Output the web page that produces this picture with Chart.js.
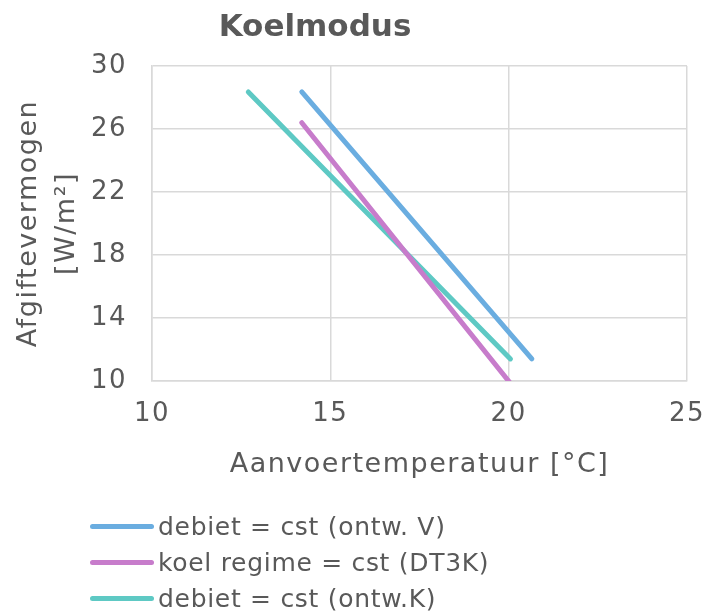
<!DOCTYPE html>
<html>
<head>
<meta charset="utf-8">
<script src="https://cdn.jsdelivr.net/npm/chart.js@4"></script>
<style>
  html, body { margin:0; padding:0; background:#fff; }
  #wrap { position:relative; width:705px; height:612px; font-family:"DejaVu Sans", sans-serif; color:#595959; }
  #chart { position:absolute; left:0; top:0; }
  .title { position:absolute; left:0; width:630px; top:7px; text-align:center; font-weight:700; font-size:31px; }
  .legend { position:absolute; left:90px; top:508px; }
  .legend-row { display:flex; align-items:center; height:36.3px; font-size:25px; letter-spacing:0.7px; }
  .legend-line { width:64px; height:5px; border-radius:3px; margin-right:4px; }
</style>
</head>
<body>
<div id="wrap">
  <canvas id="chart" width="705" height="612"></canvas>
  <div class="title">Koelmodus</div>
  <div class="legend" id="legend"></div>
</div>
<script>
// series: two end points each (x = aanvoertemperatuur, y = afgiftevermogen)
const SERIES_NAMES = ['debiet = cst (ontw. V)', 'koel regime = cst (DT3K)', 'debiet = cst (ontw.K)'];
const SERIES_COLORS = ['#6aade0', '#c77ccb', '#5ec9c4'];
const BLUE_X = [14.2, 20.65];
const BLUE_Y = [28.35, 11.4];
const PURPLE_X = [14.2, 20.05];
const PURPLE_Y = [26.4, 9.85];
const TEAL_X = [12.7, 20.05];
const TEAL_Y = [28.35, 11.4];

const X_TICKS = [10, 15, 20, 25];
const Y_TICKS = [10, 14, 18, 22, 26, 30];

const TXT = '#595959';
const GRID = '#d9d9d9';
const FONT = '"DejaVu Sans", sans-serif';

function pts(xs, ys){ return xs.map((x, i) => ({x, y: ys[i]})); }

const xsets = [BLUE_X, PURPLE_X, TEAL_X];
const ysets = [BLUE_Y, PURPLE_Y, TEAL_Y];

// wider letters, like the original's font
const spacing = {
  id: 'spacing',
  beforeDraw(chart){ chart.ctx.letterSpacing = '1.5px'; }
};

new Chart(document.getElementById('chart'), {
  type: 'scatter',
  data: {
    datasets: SERIES_NAMES.map((name, i) => ({
      label: name,
      data: pts(xsets[i], ysets[i]),
      showLine: true,
      borderColor: SERIES_COLORS[i],
      backgroundColor: SERIES_COLORS[i],
      borderWidth: 5,
      borderCapStyle: 'round',
      pointRadius: 0,
    }))
  },
  plugins: [spacing],
  options: {
    responsive: false,
    animation: false,
    layout: { padding: { left: 0, right: 18, top: 66, bottom: 131 } },
    plugins: { legend: { display: false }, tooltip: { enabled: false } },
    scales: {
      x: {
        type: 'linear', min: X_TICKS[0], max: X_TICKS[X_TICKS.length - 1],
        afterBuildTicks: s => { s.ticks = X_TICKS.map(v => ({value: v})); },
        afterFit: s => { s.height = 100; s.paddingRight = 18; s.paddingLeft = 0; },
        grid: { color: GRID, lineWidth: 1.5, drawTicks: false },
        border: { color: GRID, width: 1.5 },
        ticks: { color: TXT, font: { family: FONT, size: 26 }, padding: 18 },
        title: { display: true, text: 'Aanvoertemperatuur [°C]', color: TXT, font: { family: FONT, size: 27 }, padding: { top: 0, bottom: 0 } }
      },
      y: {
        type: 'linear', min: Y_TICKS[0], max: Y_TICKS[Y_TICKS.length - 1],
        afterBuildTicks: s => { s.ticks = Y_TICKS.map(v => ({value: v})); },
        afterFit: s => { s.width = 152; },
        grid: { color: GRID, lineWidth: 1.5, drawTicks: false },
        border: { color: GRID, width: 1.5 },
        ticks: { color: TXT, font: { family: FONT, size: 26 }, padding: 25 },
        title: { display: true, text: ['Afgiftevermogen', '[W/m²]'], color: TXT, font: { family: FONT, size: 27, lineHeight: 1.4 }, padding: { top: 10, bottom: 0 } }
      }
    }
  }
});

document.getElementById('legend').innerHTML = SERIES_NAMES.map((n, i) =>
  `<div class="legend-row"><span class="legend-line" style="background:${SERIES_COLORS[i]}"></span>${n}</div>`
).join('');
</script>
</body>
</html>
